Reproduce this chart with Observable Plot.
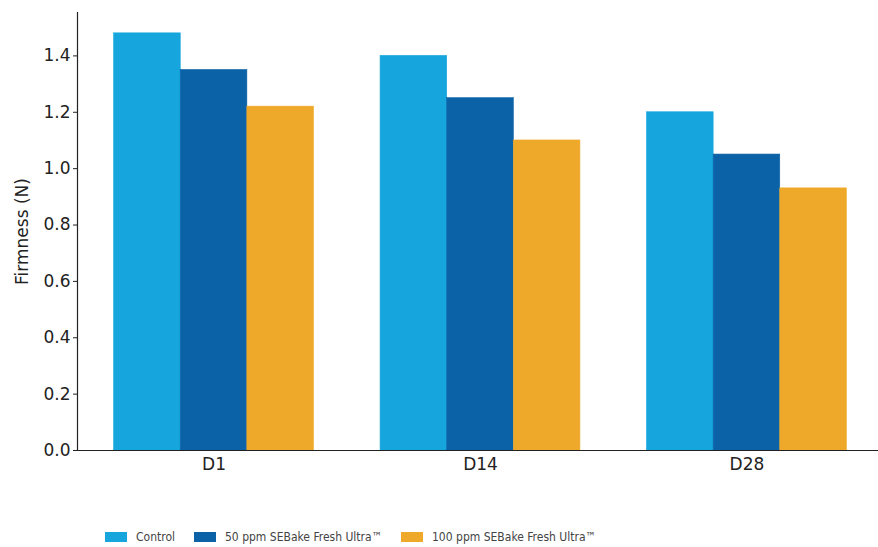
<!DOCTYPE html>
<html>
<head>
<meta charset="utf-8">
<script src="https://cdn.jsdelivr.net/npm/d3@7"></script>
<script src="https://cdn.jsdelivr.net/npm/@observablehq/plot@0.6"></script>
<style>
  html, body { margin: 0; padding: 0; background: #fff; overflow: hidden; }
  #chart { width: 884px; position: relative; }
  .legend { position: relative; height: 37px; font-family: "DejaVu Sans Condensed", "DejaVu Sans", sans-serif; font-size: 12px; color: #444; }
  .legend .item { position: absolute; top: 0; height: 37px; display: flex; align-items: center; white-space: nowrap; }
  .legend .sw { width: 22px; height: 10px; margin-right: 9px; }
</style>
</head>
<body>
<div id="chart"></div>
<script>
const days = ["D1", "D14", "D28"];
const series = ["Control", "50 ppm SEBake Fresh Ultra™", "100 ppm SEBake Fresh Ultra™"];
const control = [1.48, 1.40, 1.20];
const ppm50 = [1.35, 1.25, 1.05];
const ppm100 = [1.22, 1.10, 0.93];
const colors = ["#16a6dd", "#0b62a6", "#efa92a"];
const yTicks = [0, 0.2, 0.4, 0.6, 0.8, 1.0, 1.2, 1.4];

// grouped-bar layout as in matplotlib: bar width 0.25, series offsets -0.25, 0, +0.25
const barWidth = 0.25;
const valuesBySeries = [control, ppm50, ppm100];
const data = days.flatMap((d, i) => series.map((s, j) => ({
  day: d, dayIndex: i, seriesIndex: j, series: s, value: valuesBySeries[j][i]
})));
const center = d => d.dayIndex + (d.seriesIndex - 1) * barWidth;
const xMin = -1 * barWidth - barWidth / 2;
const xMax = (days.length - 1) + barWidth + barWidth / 2;
const xPad = (xMax - xMin) * 0.05;

const plot = Plot.plot({
  width: 884,
  height: 510,
  marginLeft: 77,
  marginRight: 1,
  marginTop: 12,
  marginBottom: 60,
  style: {fontFamily: "DejaVu Sans, sans-serif", fontSize: "17px", color: "#222", background: "#fff", overflow: "visible"},
  x: {domain: [xMin - xPad, xMax + xPad], ticks: days.map((d, i) => i), tickFormat: i => days[i], tickSize: 0, tickPadding: 7, label: null},
  y: {domain: [0, 1.554], ticks: yTicks, tickFormat: ".1f", tickSize: 4, tickPadding: 3, label: "Firmness (N)", labelAnchor: "center", labelArrow: "none", labelOffset: 62},
  color: {domain: series, range: colors},
  marks: [
    Plot.rectY(data, {x1: d => center(d) - barWidth / 2, x2: d => center(d) + barWidth / 2, y: "value", fill: "series", stroke: "series", strokeWidth: 0.6, inset: 0}),
    Plot.frame({anchor: "left", stroke: "#222", strokeWidth: 1.2}),
    Plot.frame({anchor: "bottom", stroke: "#222", strokeWidth: 1.2})
  ]
});
document.getElementById("chart").appendChild(plot);

const legendLefts = [105, 194, 401];
const legend = document.createElement("div");
legend.className = "legend";
series.forEach((s, i) => {
  const item = document.createElement("div");
  item.className = "item";
  item.style.left = legendLefts[i] + "px";
  const sw = document.createElement("div");
  sw.className = "sw";
  sw.style.background = colors[i];
  const t = document.createElement("span");
  t.textContent = s;
  item.appendChild(sw);
  item.appendChild(t);
  legend.appendChild(item);
});
legend.style.marginTop = "8px";
document.getElementById("chart").appendChild(legend);
</script>
</body>
</html>
